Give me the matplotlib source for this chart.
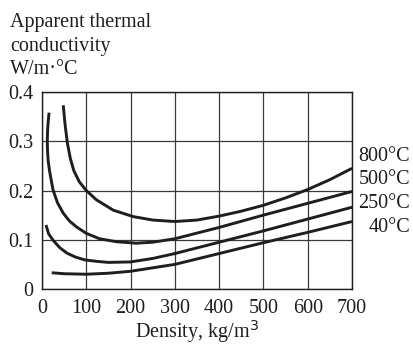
import matplotlib
matplotlib.use("Agg")
import matplotlib.pyplot as plt

# Data
x_800 = [48, 52, 57, 64, 72, 84, 100, 123, 161, 206, 250, 300, 350, 400, 450, 500, 550, 600, 650, 700]
y_800 = [0.373, 0.335, 0.298, 0.265, 0.240, 0.218, 0.200, 0.181, 0.160, 0.147, 0.140, 0.137, 0.140,
         0.148, 0.158, 0.170, 0.185, 0.202, 0.222, 0.245]

x_500 = [16, 14, 12.5, 12, 12.5, 14, 17, 21, 25, 35, 48, 62, 78, 100, 130, 168, 213, 250, 300, 400, 500, 600, 700]
y_500 = [0.358, 0.340, 0.320, 0.300, 0.280, 0.260, 0.240, 0.220, 0.201, 0.175, 0.154, 0.138, 0.126,
         0.113, 0.102, 0.096, 0.093, 0.095, 0.102, 0.125, 0.150, 0.174, 0.198]

x_250 = [9, 15, 25, 40, 56, 75, 97, 125, 150, 200, 250, 300, 400, 500, 600, 700]
y_250 = [0.130, 0.112, 0.099, 0.084, 0.073, 0.065, 0.059, 0.056, 0.054, 0.055, 0.062, 0.072,
         0.095, 0.118, 0.142, 0.166]

x_40 = [22, 50, 100, 150, 200, 250, 300, 400, 500, 600, 700]
y_40 = [0.033, 0.031, 0.030, 0.032, 0.036, 0.043, 0.050, 0.072, 0.094, 0.115, 0.137]

series_labels = ["800°C", "500°C", "250°C", "40°C"]
x_ticks = [0, 100, 200, 300, 400, 500, 600, 700]
y_ticks = [0, 0.1, 0.2, 0.3, 0.4]
y_tick_labels = ["0", "0.1", "0.2", "0.3", "0.4"]

plt.rcParams['font.family'] = ['Liberation Serif', 'DejaVu Serif']
FS = 14.5

fig = plt.figure(figsize=(4.14, 3.47), dpi=100)
ax = fig.add_axes([42 / 414, 1 - 289 / 347, 310 / 414, 197 / 347])

line_kw = dict(color="#1e1e1e", lw=2.1, solid_capstyle="butt", solid_joinstyle="round")
for xs, ys in [(x_800, y_800), (x_500, y_500), (x_250, y_250), (x_40, y_40)]:
    ax.plot(xs, ys, **line_kw)

ax.set_xlim(0, 700)
ax.set_ylim(0, 0.4)
ax.set_xticks(x_ticks)
ax.set_xticklabels([str(v) for v in x_ticks])
ax.set_yticks(y_ticks)
ax.set_yticklabels(y_tick_labels)
ax.tick_params(axis="x", length=0, labelsize=FS, colors="#1e1e1e", pad=7)
ax.tick_params(axis="y", length=0, labelsize=FS, colors="#1e1e1e", pad=6)
ax.grid(True, color="#3a3a3a", lw=0.9)
for s in ax.spines.values():
    s.set_color("#1e1e1e")
    s.set_linewidth(1.0)

ax.set_xlabel("Density, kg/m$^3$", fontsize=FS, color="#1e1e1e", labelpad=0)

# y-axis title (top-left)
for i, t in enumerate(["Apparent thermal", "conductivity", "W/m·°C"]):
    fig.text(10 / 414, 1 - (23 + 23.5 * i) / 347, t, fontsize=FS, color="#1e1e1e",
             ha="left", va="center")

# series labels at right
label_y = [157, 180, 203, 227]
for lab, yy in zip(series_labels, label_y):
    fig.text(410 / 414, 1 - yy / 347, lab, fontsize=FS, color="#1e1e1e",
             ha="right", va="center")

fig.savefig("out.png", dpi=100)
